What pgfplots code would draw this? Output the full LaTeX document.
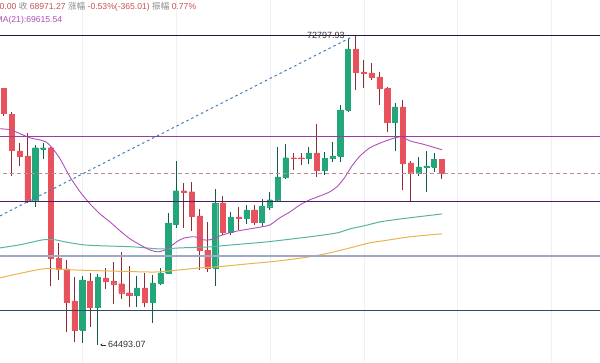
\documentclass[border=0pt]{standalone}
\usepackage{fontspec}
\setmainfont{Liberation Sans}
\newfontfamily\cjk{Noto Sans CJK SC}
\usepackage{pgfplots}
\usepackage{pgfplotstable}
\pgfplotsset{compat=1.18}
\usetikzlibrary{arrows.meta}
\definecolor{cRed}{HTML}{E8525C}
\definecolor{cRedW}{HTML}{8E2C33}
\definecolor{cGrn}{HTML}{22A67A}
\definecolor{cGrnW}{HTML}{155B42}
\definecolor{maP}{HTML}{B04FB5}
\definecolor{maT}{HTML}{58B4A0}
\definecolor{maO}{HTML}{E8B64C}
\definecolor{lTop}{HTML}{1F1A3D}
\definecolor{lPur}{HTML}{9C3BA6}
\definecolor{lDash}{HTML}{B89090}
\definecolor{lDPur}{HTML}{4A1F6A}
\definecolor{lGB}{HTML}{9FA9C6}
\definecolor{lTeal}{HTML}{2E4B5C}
\definecolor{trend}{HTML}{3F7FBF}
\definecolor{gridc}{HTML}{EEF0F3}
\definecolor{hdr}{HTML}{C9504F}
\definecolor{hgr}{HTML}{8A8A8A}
\definecolor{txt}{HTML}{333333}

% prices in thousands of USD
\pgfplotstableread{
i O H L C bull
0 71.301 71.329 70.550 70.606 0
1 70.579 70.662 68.910 69.617 0
2 69.590 69.807 69.181 69.453 0
3 69.453 70.082 68.185 68.238 0
4 68.238 69.753 68.078 69.671 1
5 69.644 69.807 69.371 69.671 1
6 69.671 69.699 66.002 66.705 0
7 66.705 67.125 66.157 66.444 0
8 66.444 66.678 64.822 65.590 0
9 65.615 66.235 64.569 64.873 0
10 64.873 66.261 64.544 66.157 1
11 66.131 66.340 64.950 65.461 0
12 65.461 66.314 64.493 66.235 1
13 66.209 66.470 65.925 66.131 0
14 66.131 66.626 65.538 66.054 0
15 66.054 66.888 65.667 65.821 0
16 65.821 66.522 65.461 65.770 0
17 65.770 66.261 65.461 65.950 1
18 65.950 66.340 65.461 65.590 0
19 65.590 66.288 65.051 66.080 1
20 66.080 66.470 66.028 66.340 1
21 66.340 67.918 66.314 67.652 1
22 67.626 69.317 67.520 68.507 1
23 68.507 68.721 67.520 68.480 0
24 68.480 68.748 67.441 67.838 0
25 67.838 68.025 66.418 66.914 0
26 66.914 67.679 66.366 66.470 0
27 66.470 68.560 66.002 68.185 1
28 68.185 68.372 67.335 67.414 0
29 67.414 67.945 67.335 67.811 1
30 67.811 68.078 67.467 67.785 0
31 67.785 68.131 67.626 67.998 1
32 67.998 68.131 67.599 67.679 0
33 67.679 68.292 67.573 68.105 1
34 68.078 68.480 67.998 68.265 1
35 68.238 69.699 68.212 68.883 1
36 68.883 69.780 68.829 69.399 1
37 69.399 69.535 69.073 69.371 0
38 69.399 69.535 69.208 69.371 0
39 69.371 69.699 69.236 69.535 1
40 69.535 70.329 68.883 69.073 0
41 69.073 69.562 68.937 69.371 1
42 69.371 69.835 69.290 69.453 1
43 69.453 70.856 69.290 70.717 1
44 70.717 72.741 70.662 72.428 1
45 72.428 72.798 71.273 71.778 0
46 71.778 72.116 71.329 71.750 0
47 71.750 72.031 71.553 71.637 0
48 71.637 71.778 70.856 71.301 0
49 71.301 71.357 70.109 70.384 0
50 70.384 70.911 69.590 70.800 1
51 70.800 70.995 68.534 69.263 0
52 69.263 69.317 68.212 68.992 0
53 68.992 69.426 68.910 69.154 1
54 69.154 69.590 68.480 69.181 1
55 69.154 69.535 69.019 69.344 1
56 69.344 69.344 68.829 68.971 0
}\candles

\begin{document}
\begin{tikzpicture}[x=1pt,y=1pt]
\begin{axis}[
  at={(0,0)}, anchor=south west,
  width=600pt, height=363pt, scale only axis,
  xmin=-0.5115, xmax=76.215,
  ymode=log, ymin=64.040, ymax=73.832,
  hide axis,
]
% faint vertical grid
\pgfplotsinvokeforeach{9.97,21.99,34.02,46.04,57.93,69.95}{
  \addplot[gridc, line width=0.8pt] coordinates {(#1,63.5) (#1,74.5)};
}
% candles
\pgfplotsinvokeforeach{0,...,56}{
  \pgfplotstablegetelem{#1}{O}\of\candles \let\vO\pgfplotsretval
  \pgfplotstablegetelem{#1}{H}\of\candles \let\vH\pgfplotsretval
  \pgfplotstablegetelem{#1}{L}\of\candles \let\vL\pgfplotsretval
  \pgfplotstablegetelem{#1}{C}\of\candles \let\vC\pgfplotsretval
  \pgfplotstablegetelem{#1}{bull}\of\candles \let\vB\pgfplotsretval
  \ifnum\vB=0\relax \def\bc{cRed}\def\wc{cRedW}\else \def\bc{cGrn}\def\wc{cGrnW}\fi
  \pgfmathsetmacro\xa{#1-0.33}
  \pgfmathsetmacro\xb{#1+0.33}
  \edef\tmp{\noexpand\addplot[\wc, line width=1pt] coordinates {(#1,\vL) (#1,\vH)};
    \noexpand\addplot[fill=\bc, draw=\bc, line width=0.4pt] coordinates {(\xa,\vO) (\xb,\vO) (\xb,\vC) (\xa,\vC) (\xa,\vO)};}
  \tmp
}
% moving averages
\addplot[maO, line width=1pt, smooth, tension=0.4] coordinates {
(-0.51,66.209) (4.99,66.444) (8.06,66.418) (12.28,66.392) (17.39,66.366) (19.95,66.366) (25.06,66.470) (27.24,66.496) (31.46,66.574) (35.29,66.652) (39.13,66.757) (41.69,66.861) (44.25,66.993) (46.80,67.125) (49.36,67.204) (51.92,67.283) (56.01,67.362)};
\addplot[maT, line width=1pt, smooth, tension=0.4] coordinates {
(-0.51,66.993) (2.05,67.072) (4.99,67.204) (6.52,67.204) (7.80,67.151) (10.10,67.072) (12.28,67.045) (16.50,67.019) (19.95,66.966) (22.51,66.993) (26.34,67.019) (29.28,67.072) (33.63,67.151) (39.13,67.283) (42.58,67.388) (44.25,67.494) (46.04,67.573) (48.08,67.679) (49.87,67.732) (51.92,67.785) (56.01,67.892)};
\addplot[maP, line width=0.9pt, smooth, tension=0.4] coordinates {
(-0.51,70.192) (0.77,70.164) (2.05,70.054) (3.32,69.944) (4.60,69.889) (5.37,69.835) (6.14,69.671) (7.16,69.371) (8.44,68.883) (9.72,68.480) (11.00,68.158) (12.28,67.892) (13.55,67.679) (14.83,67.441) (16.11,67.230) (17.39,67.072) (18.67,66.940) (19.69,66.888) (20.59,66.940) (21.23,67.019) (22.25,67.177) (23.15,67.256) (24.42,67.283) (25.45,67.204) (26.34,67.204) (27.62,67.309) (29.28,67.414) (31.46,67.494) (32.99,67.547) (34.02,67.599) (35.29,67.785) (36.57,67.945) (37.85,68.131) (39.13,68.265) (40.41,68.372) (41.69,68.480) (42.71,68.641) (43.61,68.883) (44.50,69.181) (45.52,69.453) (46.80,69.671) (48.47,69.835) (50.00,69.944) (50.90,69.972) (51.92,69.862) (53.84,69.753) (56.01,69.616)};
% horizontal levels
\addplot[lTop, line width=1.1pt] coordinates {(-1,72.798) (80,72.798)};
\addplot[lPur, line width=1pt] coordinates {(-1,69.965) (80,69.965)};
\addplot[lDash, line width=1.2pt, dash pattern=on 4pt off 3pt] coordinates {(-1,68.97127) (80,68.97127)};
\addplot[lDPur, line width=1.1pt] coordinates {(-1,68.212) (80,68.212)};
\addplot[lGB, line width=2pt] coordinates {(-1,66.783) (80,66.783)};
\addplot[lTeal, line width=1.1pt] coordinates {(-1,65.359) (80,65.359)};
% trend line
\addplot[trend, line width=1pt, dash pattern=on 2.5pt off 3pt] coordinates {(-0.51,67.838) (44.5,72.770)};
% labels
\node[anchor=east, inner sep=0pt, text=txt, font=\fontsize{9}{10}\selectfont, yshift=0.6pt] at (axis cs:43.6,72.798) {72797.93};
\draw[txt, line width=0.7pt, -{Stealth[length=2.5pt,width=3pt]}] (axis cs:13.0,64.493) -- (axis cs:12.3,64.493);
\node[anchor=west, inner sep=0pt, text=txt, font=\fontsize{9}{10}\selectfont] at (axis cs:13.3,64.493) {64493.07};
\end{axis}
\begin{scope}[every node/.style={anchor=base west, inner sep=0pt, font=\fontsize{8.6}{10}\selectfont}]
\node at (-0.5,353) {\textcolor{hdr}{0.00} \textcolor{hgr}{\cjk 收} \textcolor{hdr}{68971.27} \textcolor{hgr}{\cjk 涨幅} \textcolor{hdr}{-0.53\%(-365.01)} \textcolor{hgr}{\cjk 振幅} \textcolor{hdr}{0.77\%}};
\node[text=maP] at (-4.5,340) {MA(21):69615.54};
\end{scope}
\pgfresetboundingbox
\useasboundingbox (0,0) rectangle (600,363);
\end{tikzpicture}
\end{document}
